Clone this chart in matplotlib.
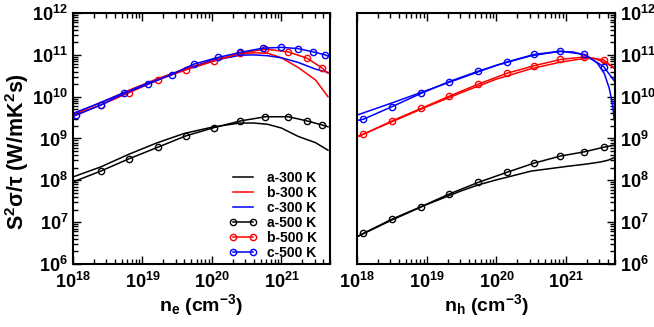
import numpy as np
import matplotlib.pyplot as plt
from matplotlib.ticker import LogLocator, FixedLocator, FuncFormatter, NullFormatter

plt.rcParams['font.family'] = 'Liberation Sans'
plt.rcParams['font.weight'] = 'bold'
plt.rcParams['mathtext.fontset'] = 'custom'
plt.rcParams['mathtext.rm'] = 'Liberation Sans:bold'
plt.rcParams['mathtext.bf'] = 'Liberation Sans:bold'
plt.rcParams['mathtext.it'] = 'Liberation Sans'

# Werte als log10 (x: Ladungsträgerdichte in cm^-3, y: S^2 sigma/tau)
# --- linkes Panel (n_e) ---
ne_line_x = [18.0, 18.4, 18.8, 19.2, 19.6, 20.0, 20.4, 20.6, 20.8, 21.0, 21.24, 21.49, 21.67]
ne_a300 = [8.08, 8.32, 8.62, 8.89, 9.12, 9.27, 9.37, 9.37, 9.34, 9.25, 9.05, 8.90, 8.72]
ne_b300 = [9.58, 9.86, 10.15, 10.42, 10.66, 10.87, 11.02, 11.05, 11.04, 10.93, 10.70, 10.40, 10.00]
ne_c300 = [9.60, 9.86, 10.14, 10.40, 10.64, 10.86, 10.99, 11.00, 10.98, 10.93, 10.82, 10.66, 10.58]

ne_ab500_x = [18.0, 18.40, 18.80, 19.22, 19.62, 20.03, 20.41, 20.77, 21.10, 21.37, 21.59, 21.67]
ne_a500 = [7.96, 8.22, 8.51, 8.79, 9.06, 9.26, 9.42, 9.52, 9.52, 9.42, 9.32, 9.28]
ne_b500 = [9.56, 9.80, 10.09, 10.40, 10.64, 10.85, 11.04, 11.14, 11.07, 10.92, 10.68, 10.56]
ne_c500_x = [18.0, 18.05, 18.40, 18.74, 19.08, 19.42, 19.74, 20.09, 20.41, 20.73, 21.0, 21.24, 21.46, 21.63, 21.67]
ne_c500 = [9.53, 9.56, 9.80, 10.08, 10.30, 10.53, 10.78, 10.94, 11.06, 11.16, 11.18, 11.15, 11.07, 11.00, 10.97]

# --- rechtes Panel (n_h) ---
nh_a300_x = [18.0, 18.5, 19.0, 19.5, 19.74, 20.0, 20.5, 21.0, 21.3, 21.5, 21.6, 21.69]
nh_a300 = [6.65, 7.05, 7.42, 7.75, 7.89, 8.01, 8.22, 8.33, 8.39, 8.44, 8.48, 8.54]
nh_b300_x = [18.0, 18.5, 19.0, 19.5, 20.0, 20.5, 20.9, 21.2, 21.4, 21.55, 21.69]
nh_b300 = [9.04, 9.40, 9.76, 10.10, 10.42, 10.67, 10.82, 10.90, 10.92, 10.82, 10.70]
nh_c300_x = [18.0, 18.5, 19.0, 19.5, 20.0, 20.5, 20.9, 21.1, 21.3, 21.45, 21.55, 21.62, 21.67, 21.69]
nh_c300 = [9.56, 9.85, 10.15, 10.45, 10.75, 10.98, 11.08, 11.07, 10.98, 10.80, 10.55, 10.20, 9.80, 9.45]

nh_500_x = [18.0, 18.09, 18.50, 18.92, 19.32, 19.74, 20.15, 20.54, 20.92, 21.26, 21.54, 21.69]
nh_a500 = [6.65, 6.73, 7.07, 7.37, 7.67, 7.95, 8.19, 8.41, 8.58, 8.68, 8.79, 8.84]
nh_b500 = [9.04, 9.10, 9.42, 9.72, 10.01, 10.30, 10.56, 10.74, 10.89, 10.95, 10.88, 10.68]
nh_c500 = [9.43, 9.46, 9.76, 10.08, 10.36, 10.61, 10.83, 11.01, 11.09, 11.01, 10.72, 10.38]

x_decades = [18, 19, 20, 21]
y_decades = [6, 7, 8, 9, 10, 11, 12]


def p(v):
    return 10 ** np.array(v, dtype=float)


fig = plt.figure(figsize=(6.54, 3.27), dpi=100)
ax1 = fig.add_axes([0.1116, 0.193, 0.393, 0.767])
ax2 = fig.add_axes([0.546, 0.193, 0.394, 0.767])

lw = 1.1
mk = dict(marker='o', markersize=4.5, markerfacecolor='none', markeredgewidth=1.0)

# linkes Panel
ax1.plot(p(ne_line_x), p(ne_a300), color='black', lw=lw, label='a-300 K')
ax1.plot(p(ne_line_x), p(ne_b300), color='red', lw=lw, label='b-300 K')
ax1.plot(p(ne_line_x), p(ne_c300), color='blue', lw=lw, label='c-300 K')
ax1.plot(p(ne_ab500_x), p(ne_a500), color='black', lw=lw, markevery=list(range(1, 11)), label='a-500 K', **mk)
ax1.plot(p(ne_ab500_x), p(ne_b500), color='red', lw=lw, markevery=list(range(1, 11)), label='b-500 K', **mk)
ax1.plot(p(ne_c500_x), p(ne_c500), color='blue', lw=lw, markevery=list(range(1, 14)), label='c-500 K', **mk)

# rechtes Panel
ax2.plot(p(nh_a300_x), p(nh_a300), color='black', lw=lw)
ax2.plot(p(nh_b300_x), p(nh_b300), color='red', lw=lw)
ax2.plot(p(nh_c300_x), p(nh_c300), color='blue', lw=lw)
ax2.plot(p(nh_500_x), p(nh_a500), color='black', lw=lw, markevery=list(range(1, 11)), **mk)
ax2.plot(p(nh_500_x), p(nh_b500), color='red', lw=lw, markevery=list(range(1, 11)), **mk)
ax2.plot(p(nh_500_x), p(nh_c500), color='blue', lw=lw, markevery=list(range(1, 11)), **mk)

fmt = FuncFormatter(lambda v, pos: r'$\mathbf{10^{%d}}$' % int(round(np.log10(v))))

for ax in (ax1, ax2):
    ax.set_xscale('log')
    ax.set_yscale('log')
    ax.set_xlim(1e18, 5e21)
    ax.set_ylim(1e6, 1e12)
    ax.xaxis.set_major_locator(FixedLocator(p(x_decades)))
    ax.xaxis.set_minor_locator(LogLocator(base=10, subs=np.arange(2, 10), numticks=100))
    ax.yaxis.set_major_locator(FixedLocator(p(y_decades)))
    ax.yaxis.set_minor_locator(LogLocator(base=10, subs=np.arange(2, 10), numticks=100))
    ax.xaxis.set_major_formatter(fmt)
    ax.yaxis.set_major_formatter(fmt)
    ax.xaxis.set_minor_formatter(NullFormatter())
    ax.yaxis.set_minor_formatter(NullFormatter())
    ax.tick_params(which='both', direction='in', top=True, width=1.0, labelsize=13)
    ax.tick_params(axis='x', which='major', pad=6)
    ax.tick_params(which='major', length=6)
    ax.tick_params(which='minor', length=3.5)
    for s in ax.spines.values():
        s.set_linewidth(1.5)

ax1.tick_params(which='both', right=False)
ax2.tick_params(which='both', left=False, right=True, labelleft=False, labelright=True)

ax1.set_xlabel(r'n$_\mathbf{e}$ (cm$^\mathbf{-3}$)', fontsize=14, fontweight='bold', labelpad=0)
ax2.set_xlabel(r'n$_\mathbf{h}$ (cm$^\mathbf{-3}$)', fontsize=14, fontweight='bold', labelpad=0)
ax1.set_ylabel(r'S$^\mathbf{2}$$\sigma/\tau$ (W/mK$^\mathbf{2}$s)', fontsize=15.5, fontweight='bold')
ax1.yaxis.set_label_coords(-0.165, 0.45)

leg = ax1.legend(loc='lower right', bbox_to_anchor=(1.0, -0.035), frameon=False,
                 handlelength=2.0, handletextpad=0.75, labelspacing=0.08, numpoints=2,
                 prop={'weight': 'bold', 'size': 10})

plt.savefig('out.png', dpi=100)
